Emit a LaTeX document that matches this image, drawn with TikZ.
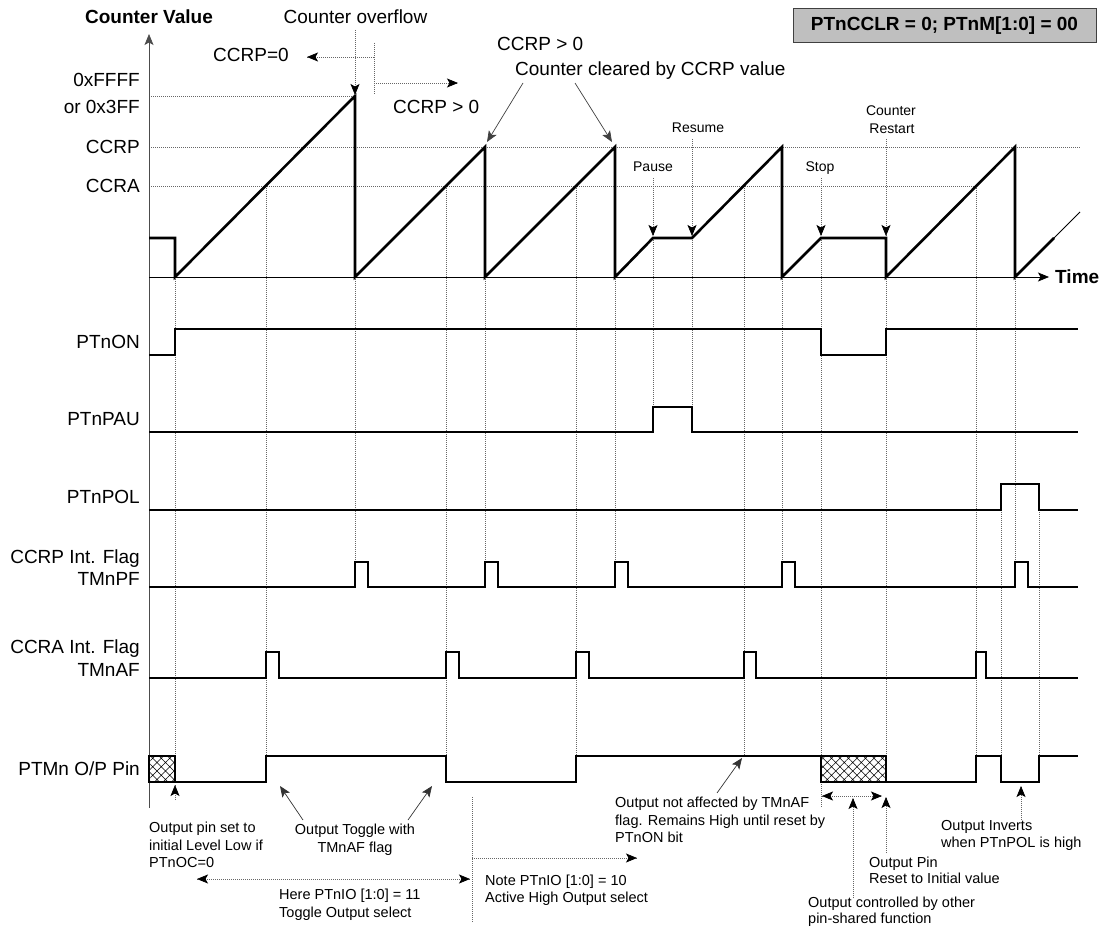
\documentclass[tikz,border=0pt]{standalone}
\usepackage{fontspec}
\setmainfont{Liberation Sans}
\usetikzlibrary{arrows.meta,patterns.meta,calc}
\newcommand\mydotarr[2]{\draw[gridl] #1 -- #2; \draw[arw] ($#2!3pt!#1$) -- #2;}
\newcommand\mydotdarr[2]{\draw[gridl] #1 -- #2; \draw[arw] ($#2!3pt!#1$) -- #2; \draw[arw] ($#1!3pt!#2$) -- #1;}
\begin{document}
\begin{tikzpicture}[x=1pt,y=-1pt,
  lab/.style={font=\fontsize{19}{22}\selectfont,inner sep=0pt},
  sm/.style={font=\fontsize{14.5}{17}\selectfont,inner sep=0pt},
  smt/.style={font=\fontsize{14}{16}\selectfont,inner sep=0pt},
  gridl/.style={black!60,line width=0.8pt,dash pattern=on 1pt off 1pt},
  cnt/.style={line width=2.6pt,line join=miter},
  sig/.style={line width=1.2pt},
  arw/.style={line width=0.7pt,-{Stealth[length=11pt,width=9pt,inset=2.5pt]}},
  hatchbox/.style={draw,line width=1.2pt,pattern={Hatch[angle=45,distance=6pt,line width=0.5pt]}},
  ]
\useasboundingbox (0,0) rectangle (1104,928);

% ---------- grid lines ----------
\draw[gridl] (149,96) -- (355,96);
\draw[gridl] (149,147) -- (1080,147);
\draw[gridl] (149,186) -- (976,186);
\draw[gridl] (175,277) -- (175,782);
\draw[gridl] (266,186) -- (266,756);
\draw[gridl] (355,277) -- (355,562);
\draw[gridl] (446,186) -- (446,756);
\draw[gridl] (485,277) -- (485,562);
\draw[gridl] (576,186) -- (576,756);
\draw[gridl] (615,277) -- (615,562);
\draw[gridl] (653,238) -- (653,407);
\draw[gridl] (692,238) -- (692,407);
\draw[gridl] (744,186) -- (744,756);
\draw[gridl] (782,277) -- (782,562);
\draw[gridl] (821,238) -- (821,808);
\draw[gridl] (886,277) -- (886,782);
\draw[gridl] (976,186) -- (976,756);
\draw[gridl] (1001,484) -- (1001,756);
\draw[gridl] (1039,484) -- (1039,756);
\draw[gridl] (1015,277) -- (1015,562);

% ---------- axes ----------
\draw[black!70,line width=1.5pt,arw] (149,808) -- (149,34);
\draw[line width=1pt,arw] (149,277) -- (1049,277);

% ---------- counter ----------
\draw[cnt] (149,238) -- (175,238) -- (175,277) -- (355,96) -- (355,277) -- (485,147) -- (485,277)
  -- (615,147) -- (615,277) -- (653,238) -- (692,238) -- (782,147) -- (782,277) -- (821,238)
  -- (886,238) -- (886,277) -- (1015,147) -- (1015,277) -- (1054,238);
\draw[line width=0.8pt] (1053,239) -- (1080,212);

% ---------- signals ----------
\draw[sig] (149,355) -- (175,355) -- (175,329) -- (821,329) -- (821,355) -- (886,355) -- (886,329) -- (1078,329);
\draw[sig] (149,432) -- (653,432) -- (653,407) -- (692,407) -- (692,432) -- (1078,432);
\draw[sig] (149,510) -- (1001,510) -- (1001,484) -- (1039,484) -- (1039,510) -- (1078,510);
\draw[sig] (149,587) -- (355,587) -- (355,562) -- (368,562) -- (368,587)
  -- (485,587) -- (485,562) -- (498,562) -- (498,587)
  -- (615,587) -- (615,562) -- (628,562) -- (628,587)
  -- (782,587) -- (782,562) -- (795,562) -- (795,587)
  -- (1015,587) -- (1015,562) -- (1028,562) -- (1028,587) -- (1078,587);
\draw[sig] (149,678) -- (266,678) -- (266,652) -- (279,652) -- (279,678)
  -- (446,678) -- (446,652) -- (459,652) -- (459,678)
  -- (576,678) -- (576,652) -- (589,652) -- (589,678)
  -- (744,678) -- (744,652) -- (756,652) -- (756,678)
  -- (976,678) -- (976,652) -- (986,652) -- (986,678) -- (1078,678);
\draw[sig] (175,782) -- (266,782) -- (266,756) -- (446,756) -- (446,782) -- (576,782) -- (576,756) -- (821,756);
\draw[sig] (886,782) -- (976,782) -- (976,756) -- (1001,756) -- (1001,782) -- (1039,782) -- (1039,756) -- (1078,756);
\draw[hatchbox] (149,756) rectangle (175,782);
\draw[hatchbox] (821,756) rectangle (886,782);

% ---------- left labels ----------
\node[lab,font=\fontsize{19}{22}\selectfont\bfseries,anchor=base] (cv) at (149,23.8) {Counter Value};
\node[lab,anchor=base east] (lffff) at (140,86.8) {0xFFFF};
\node[lab,anchor=base east] (l3ff) at (140,113.8) {or 0x3FF};
\node[lab,anchor=base east] (lccrp) at (140,153.8) {CCRP};
\node[lab,anchor=base east] (lccra) at (140,192.8) {CCRA};
\node[lab,anchor=base east] (lon) at (140,348.8) {PTnON};
\node[lab,anchor=base east] (lpau) at (140,425.8) {PTnPAU};
\node[lab,anchor=base east] (lpol) at (140,503.8) {PTnPOL};
\node[lab,anchor=base east] (lpf1) at (140,563.8) {CCRP Int. Flag};
\node[lab,anchor=base east] (lpf2) at (140,585.3) {TMnPF};
\node[lab,anchor=base east] (laf1) at (140,653.5) {CCRA Int. Flag};
\node[lab,anchor=base east] (laf2) at (140,676.3) {TMnAF};
\node[lab,anchor=base east] (lpin) at (140,775) {PTMn O/P Pin};
\node[lab,font=\fontsize{19}{22}\selectfont\bfseries,anchor=base west] (ltime) at (1055,283.8) {Time};

% ---------- mode box ----------
\node[draw=black!75,fill=black!25,line width=1pt,minimum width=303pt,minimum height=34pt,inner sep=0pt,
  font=\fontsize{19}{22}\selectfont\bfseries] (mode) at (944.5,26) {PTnCCLR = 0; PTnM[1:0] = 00};

% ---------- top annotations ----------
\node[lab,anchor=base] (ovf) at (355.5,23.8) {Counter overflow};
\mydotarr{(355,30)}{(355,95)}
\draw[gridl] (374,43) -- (374,95);
\mydotarr{(374,57)}{(307,57)}
\mydotarr{(374,83)}{(458,83)}
\node[lab,anchor=base west] (c0) at (213,61.8) {CCRP=0};
\node[lab,anchor=base west] (cg1) at (393,113.8) {CCRP > 0};
\node[lab,anchor=base west] (cg2) at (497,50.1) {CCRP > 0};
\node[lab,anchor=base west] (clr) at (515,75.8) {Counter cleared by CCRP value};
\draw[black!75,arw] (523,83) -- (487,142);
\draw[black!75,arw] (575,83) -- (612,142);

\node[smt,anchor=base] (pause) at (653,172) {Pause};
\node[smt,anchor=base] (resume) at (698,133) {Resume};
\node[smt,anchor=base] (stop) at (820,172) {Stop};
\node[smt,anchor=base] (rst1) at (891,115.8) {Counter};
\node[smt,anchor=base] (rst2) at (892,134) {Restart};
\mydotarr{(653,178)}{(653,236)}
\mydotarr{(692,139)}{(692,236)}
\mydotarr{(821,178)}{(821,236)}
\mydotarr{(886,139)}{(886,236)}

% ---------- bottom annotations ----------
\mydotarr{(175,800)}{(175,785)}
\node[sm,anchor=base west] (a1) at (149,832.5) {Output pin set to};
\node[sm,anchor=base west] (a2) at (149,850) {initial Level Low if};
\node[sm,anchor=base west] (a3) at (149,867.5) {PTnOC=0};

\node[sm,anchor=base] (b1) at (355,834.5) {Output Toggle with};
\node[sm,anchor=base] (b2) at (355,852) {TMnAF flag};
\draw[black!80,arw] (303,820) -- (280,786);
\draw[black!80,arw] (408,820) -- (432,786);

\mydotdarr{(197,879)}{(470,879)}
\draw[gridl] (472,797) -- (472,922);
\mydotarr{(472,858)}{(637,858)}
\node[sm,anchor=base west] (h1) at (279,899.5) {Here PTnIO [1:0] = 11};
\node[sm,anchor=base west] (h2) at (279,917) {Toggle Output select};
\node[sm,anchor=base west] (n1) at (485,885.2) {Note PTnIO [1:0] = 10};
\node[sm,anchor=base west] (n2) at (485,902.5) {Active High Output select};

\node[sm,anchor=base west] (o1) at (615,807) {Output not affected by TMnAF};
\node[sm,anchor=base west] (o2) at (615,825) {flag. Remains High until reset by};
\node[sm,anchor=base west] (o3) at (615,842.5) {PTnON bit};
\draw[black!80,arw] (717,793) -- (742,758);

\mydotdarr{(822,796)}{(882,796)}
\mydotarr{(853,898)}{(853,798)}
\mydotarr{(886,853)}{(886,797)}
\node[sm,anchor=base west] (p1) at (869,867) {Output Pin};
\node[sm,anchor=base west] (p2) at (869,883.5) {Reset to Initial value};
\node[sm,anchor=base west] (q1) at (808,907) {Output controlled by other};
\node[sm,anchor=base west] (q2) at (808,923.5) {pin-shared function};

\mydotarr{(1021,820)}{(1021,786)}
\node[sm,anchor=base west] (i1) at (941,830.2) {Output Inverts};
\node[sm,anchor=base west] (i2) at (941,847.5) {when PTnPOL is high};
\end{tikzpicture}
\end{document}
